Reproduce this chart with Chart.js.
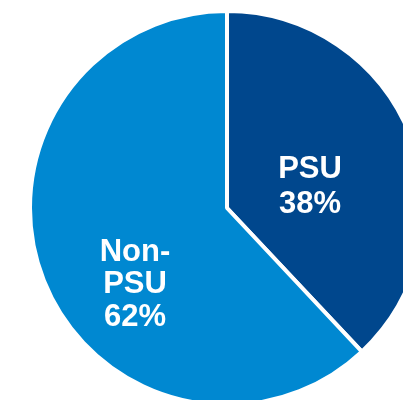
<!DOCTYPE html>
<html>
<head>
<meta charset="utf-8">
<script src="https://cdn.jsdelivr.net/npm/chart.js@4/dist/chart.umd.min.js"></script>
<style>
  html, body { margin: 0; padding: 0; background: #ffffff; overflow: hidden; width: 403px; height: 400px; }
  #wrap { position: absolute; left: -3px; top: -22px; width: 460px; height: 460px; }
</style>
</head>
<body>
<div id="wrap"><canvas id="pie" width="460" height="460"></canvas></div>
<script>
// Share of the total by group
const categories = ['PSU', 'Non-PSU'];
const shares = [38, 62];
// Label lines printed inside each slice
const sliceLabels = [['PSU', '38%'], ['Non-', 'PSU', '62%']];
const sliceColors = ['#00478D', '#0088D1'];

// Text placement relative to the pie centre, per slice
const labelLayout = [
  { dx: 83, baselines: [-30, 5] },
  { dx: -92, baselines: [53, 85, 118] }
];

const insideLabels = {
  id: 'insideLabels',
  afterDatasetsDraw(chart) {
    const ctx = chart.ctx;
    const arcs = chart.getDatasetMeta(0).data;
    ctx.save();
    ctx.fillStyle = '#ffffff';
    ctx.font = 'bold 31px "Liberation Sans", Arial, sans-serif';
    ctx.textAlign = 'center';
    ctx.textBaseline = 'alphabetic';
    arcs.forEach((arc, i) => {
      const lay = labelLayout[i];
      sliceLabels[i].forEach((line, j) => {
        ctx.fillText(line, arc.x + lay.dx, arc.y + lay.baselines[j]);
      });
    });
    ctx.restore();
  }
};

new Chart(document.getElementById('pie'), {
  type: 'pie',
  data: {
    labels: categories,
    datasets: [{
      data: shares,
      backgroundColor: sliceColors,
      borderColor: '#ffffff',
      borderWidth: 4
    }]
  },
  options: {
    responsive: false,
    maintainAspectRatio: false,
    animation: false,
    radius: 197,
    layout: { padding: 0 },
    plugins: {
      legend: { display: false },
      tooltip: { enabled: false }
    }
  },
  plugins: [insideLabels]
});
</script>
</body>
</html>
